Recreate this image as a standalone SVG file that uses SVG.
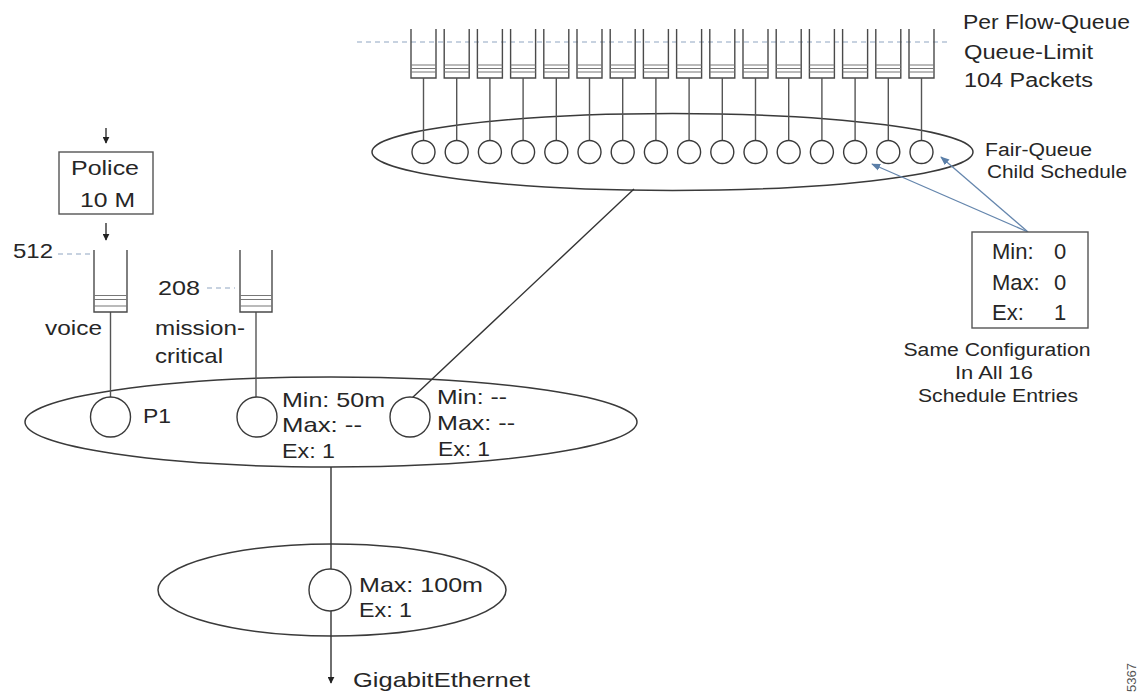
<svg xmlns="http://www.w3.org/2000/svg" xmlns:xlink="http://www.w3.org/1999/xlink" width="1147" height="694" viewBox="0 0 1147 694">
<style>
text{font-family:"Liberation Sans",Arial,Helvetica,sans-serif;fill:#262626}
.t21{font-size:21px}
.t20{font-size:20px}
.t18{font-size:18px}
.ell{fill:none;stroke:#3a3a3a;stroke-width:1.5}
.q{fill:none;stroke:#4a4a4a;stroke-width:1.4}
.ql{fill:none;stroke:#777;stroke-width:1.2}
.stem{fill:none;stroke:#555;stroke-width:1.4}
.circ{fill:#fff;stroke:#3a3a3a;stroke-width:1.4}
.dash{fill:none;stroke:#8fa5c2;stroke-width:1.2;stroke-dasharray:5 4}
.line{fill:none;stroke:#333;stroke-width:1.4}
.blue{fill:none;stroke:#6586ad;stroke-width:1.3}
.box{fill:#fff;stroke:#555;stroke-width:1.4}
</style>
<defs>
<marker id="ah" viewBox="0 0 10 10" refX="9" refY="5" markerWidth="7" markerHeight="7" markerUnits="userSpaceOnUse" orient="auto">
<path d="M0,0 L10,5 L0,10 z" fill="#222"/>
</marker>
<marker id="ahb" viewBox="0 0 10 10" refX="9" refY="5" markerWidth="9" markerHeight="9" markerUnits="userSpaceOnUse" orient="auto">
<path d="M0,1 L10,5 L0,9 z" fill="#5b7fa8"/>
</marker>
<g id="fq">
<path class="q" d="M-12.5,29 V78 H12.5 V29"/>
<path class="ql" d="M-12.5,65 H12.5 M-12.5,68.5 H12.5 M-12.5,72 H12.5"/>
<path class="stem" d="M0,78 V140.5"/>
<circle class="circ" cx="0" cy="152" r="11.5"/>
</g>
</defs>

<rect width="1147" height="694" fill="#fff"/>

<!-- ellipses -->
<g id="fair-queue-schedule">
<ellipse class="ell" cx="672.5" cy="152" rx="300.5" ry="38.5"/>
</g>
<g id="parent-schedule">
<ellipse class="ell" cx="331" cy="422" rx="306" ry="45"/>
</g>
<g id="port-schedule">
<ellipse class="ell" cx="332" cy="590" rx="174" ry="46"/>
</g>

<!-- dashed queue-limit line -->
<path class="dash" d="M357,42 H950"/>

<!-- per flow queues -->
<g id="flow-queue-1"><use xlink:href="#fq" x="423.5"/></g>
<g id="flow-queue-2"><use xlink:href="#fq" x="456.7"/></g>
<g id="flow-queue-3"><use xlink:href="#fq" x="489.9"/></g>
<g id="flow-queue-4"><use xlink:href="#fq" x="523.1"/></g>
<g id="flow-queue-5"><use xlink:href="#fq" x="556.3"/></g>
<g id="flow-queue-6"><use xlink:href="#fq" x="589.5"/></g>
<g id="flow-queue-7"><use xlink:href="#fq" x="622.7"/></g>
<g id="flow-queue-8"><use xlink:href="#fq" x="655.9"/></g>
<g id="flow-queue-9"><use xlink:href="#fq" x="689.1"/></g>
<g id="flow-queue-10"><use xlink:href="#fq" x="722.3"/></g>
<g id="flow-queue-11"><use xlink:href="#fq" x="755.5"/></g>
<g id="flow-queue-12"><use xlink:href="#fq" x="788.7"/></g>
<g id="flow-queue-13"><use xlink:href="#fq" x="821.9"/></g>
<g id="flow-queue-14"><use xlink:href="#fq" x="855.1"/></g>
<g id="flow-queue-15"><use xlink:href="#fq" x="888.3"/></g>
<g id="flow-queue-16"><use xlink:href="#fq" x="921.5"/></g>

<g id="label-per-flow">
<text class="t20" x="963" y="29" textLength="167" lengthAdjust="spacingAndGlyphs">Per Flow-Queue</text>
<text class="t20" x="964" y="59" textLength="129" lengthAdjust="spacingAndGlyphs">Queue-Limit</text>
<text class="t20" x="964" y="87" textLength="129" lengthAdjust="spacingAndGlyphs">104 Packets</text>
</g>
<g id="label-fair-queue">
<text class="t18" x="985" y="156" textLength="107" lengthAdjust="spacingAndGlyphs">Fair-Queue</text>
<text class="t18" x="987" y="178" textLength="140" lengthAdjust="spacingAndGlyphs">Child Schedule</text>
</g>

<!-- connectors -->
<g id="connectors">
<path class="line" d="M106,128 V143" marker-end="url(#ah)"/>
<path class="line" d="M106,223 V240" marker-end="url(#ah)"/>
<path class="stem" d="M110.5,312 V397"/>
<path class="stem" d="M256,312 V397"/>
<path class="line" d="M412,398 L634,189"/>
<path class="line" d="M331,467 V569"/>
<path class="line" d="M331,611 V683" marker-end="url(#ah)"/>
<path class="blue" d="M1028,232 L872,164" marker-end="url(#ahb)"/>
<path class="blue" d="M1028,232 L941,157" marker-end="url(#ahb)"/>
<path class="dash" d="M58,254 H90"/>
<path class="dash" d="M207,288 H235"/>
</g>

<!-- police -->
<g id="police">
<rect class="box" x="59" y="152" width="94" height="62"/>
<text class="t21" x="71" y="175" textLength="68" lengthAdjust="spacingAndGlyphs">Police</text>
<text class="t21" x="80" y="207" textLength="55" lengthAdjust="spacingAndGlyphs">10 M</text>
</g>

<!-- voice queue -->
<g id="voice-queue">
<path class="q" d="M94,250 V312 H127 V250"/>
<path class="ql" d="M94,295.5 H127 M94,299.5 H127 M94,306 H127"/>
<text class="t21" x="13" y="258" textLength="40" lengthAdjust="spacingAndGlyphs">512</text>
<text class="t21" x="45" y="335" textLength="57" lengthAdjust="spacingAndGlyphs">voice</text>
</g>

<!-- mission-critical queue -->
<g id="mission-critical-queue">
<path class="q" d="M240,250 V312 H272 V250"/>
<path class="ql" d="M240,295.5 H272 M240,299.5 H272 M240,306 H272"/>
<text class="t21" x="158" y="295" textLength="42" lengthAdjust="spacingAndGlyphs">208</text>
<text class="t21" x="155" y="335" textLength="90" lengthAdjust="spacingAndGlyphs">mission-</text>
<text class="t21" x="155" y="363" textLength="68" lengthAdjust="spacingAndGlyphs">critical</text>
</g>

<!-- parent schedule entries -->
<g id="entry-p1">
<circle class="circ" cx="110.5" cy="417" r="20"/>
<text class="t21" x="143" y="423" textLength="28" lengthAdjust="spacingAndGlyphs">P1</text>
</g>
<g id="entry-mission-critical">
<circle class="circ" cx="257" cy="417" r="20"/>
<text class="t21" x="282" y="407" textLength="103" lengthAdjust="spacingAndGlyphs">Min: 50m</text>
<text class="t21" x="282" y="432" textLength="80" lengthAdjust="spacingAndGlyphs">Max: --</text>
<text class="t21" x="282" y="458" textLength="53" lengthAdjust="spacingAndGlyphs">Ex: 1</text>
</g>
<g id="entry-class-default">
<circle class="circ" cx="410" cy="417" r="20"/>
<text class="t21" x="437" y="404" textLength="70" lengthAdjust="spacingAndGlyphs">Min: --</text>
<text class="t21" x="437" y="430" textLength="78" lengthAdjust="spacingAndGlyphs">Max: --</text>
<text class="t21" x="438" y="456" textLength="52" lengthAdjust="spacingAndGlyphs">Ex: 1</text>
</g>

<!-- port entry -->
<g id="entry-port">
<circle class="circ" cx="330" cy="590" r="21"/>
<text class="t21" x="359" y="592" textLength="124" lengthAdjust="spacingAndGlyphs">Max: 100m</text>
<text class="t21" x="359" y="617" textLength="53" lengthAdjust="spacingAndGlyphs">Ex: 1</text>
</g>
<g id="gigabitethernet">
<text class="t21" x="353" y="687" textLength="177" lengthAdjust="spacingAndGlyphs">GigabitEthernet</text>
</g>

<!-- config box -->
<g id="config-box">
<rect class="box" x="972" y="232" width="116" height="96"/>
<text class="t21" x="992" y="259" style="font-size:22px">Min: <tspan x="1054">0</tspan></text>
<text class="t21" x="992" y="290" style="font-size:22px">Max: <tspan x="1054">0</tspan></text>
<text class="t21" x="992" y="320" style="font-size:22px">Ex: <tspan x="1054">1</tspan></text>
</g>
<g id="config-note">
<text class="t18" x="997" y="356" text-anchor="middle" textLength="187" lengthAdjust="spacingAndGlyphs">Same Configuration</text>
<text class="t18" x="994" y="379" text-anchor="middle" textLength="78" lengthAdjust="spacingAndGlyphs">In All 16</text>
<text class="t18" x="998" y="402" text-anchor="middle" textLength="160" lengthAdjust="spacingAndGlyphs">Schedule Entries</text>
</g>

<text transform="translate(1136,692) rotate(-90)" style="font-size:13px;fill:#555">5367</text>
</svg>
